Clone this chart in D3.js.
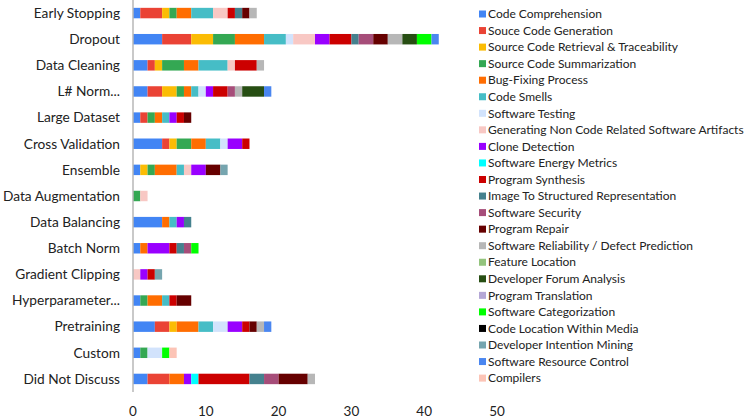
<!DOCTYPE html>
<html><head><meta charset="utf-8">
<script src="https://cdn.jsdelivr.net/npm/d3@7"></script>
<style>body{margin:0;background:#fff;}svg{display:block;font-family:Lato,"Noto Sans",sans-serif;}</style>
</head><body><svg id="c" width="747" height="420"></svg>
<script>
const categories = ["Early Stopping","Dropout","Data Cleaning","L# Norm...","Large Dataset","Cross Validation","Ensemble","Data Augmentation","Data Balancing","Batch Norm","Gradient Clipping","Hyperparameter...","Pretraining","Custom","Did Not Discuss"];
const seriesNames = ["Code Comprehension","Souce Code Generation","Source Code Retrieval & Traceability","Source Code Summarization","Bug-Fixing Process","Code Smells","Software Testing","Generating Non Code Related Software Artifacts","Clone Detection","Software Energy Metrics","Program Synthesis","Image To Structured Representation","Software Security","Program Repair","Software Reliability / Defect Prediction","Feature Location","Developer Forum Analysis","Program Translation","Software Categorization","Code Location Within Media","Developer Intention Mining","Software Resource Control","Compilers"];
const seriesColors = ["#4285f4","#ea4335","#fbbc04","#34a853","#ff6d01","#46bdc6","#d2e3fc","#f8c8c4","#9900ff","#00ffff","#cc0000","#45818e","#a64d79","#660000","#b7b7b7","#93c47d","#274e13","#b4a7d6","#00ff00","#000000","#76a5af","#4a86f0","#fcc4b6"];
// values[series][category]
const values = [
 [1,4,2,2,1,4,1,0,4,1,0,1,3,1,2],
 [3,4,1,2,1,1,0,0,0,0,0,0,2,0,3],
 [1,3,1,2,0,1,1,0,0,0,0,0,1,0,0],
 [1,3,3,1,1,2,1,1,0,0,0,1,0,1,0],
 [2,4,2,1,1,2,3,0,1,1,0,2,3,0,2],
 [3,3,4,1,1,2,1,0,1,0,0,1,2,0,0],
 [0,1,0,1,0,1,0,0,0,0,0,0,2,2,0],
 [2,3,1,0,0,0,1,1,0,0,1,0,0,0,0],
 [0,2,0,1,1,2,2,0,1,3,1,0,2,0,1],
 [0,0,0,0,0,0,0,0,0,0,0,0,0,0,1],
 [1,3,3,2,1,1,0,0,0,1,1,1,1,0,7],
 [1,1,0,0,0,0,0,0,1,1,0,0,0,0,2],
 [0,2,0,1,0,0,0,0,0,1,0,0,0,0,2],
 [1,2,0,0,1,0,2,0,0,0,0,2,1,0,4],
 [1,2,1,1,0,0,0,0,0,0,0,0,1,0,1],
 [0,0,0,0,0,0,0,0,0,0,0,0,0,0,0],
 [0,2,0,3,0,0,0,0,0,0,0,0,0,0,0],
 [0,0,0,0,0,0,0,0,0,0,0,0,0,0,0],
 [0,2,0,0,0,0,0,0,0,1,0,0,0,1,0],
 [0,0,0,0,0,0,0,0,0,0,0,0,0,0,0],
 [0,0,0,0,0,0,1,0,0,0,1,0,0,0,0],
 [0,1,0,1,0,0,0,0,0,0,0,0,1,0,0],
 [0,0,0,0,0,0,0,0,0,0,0,0,0,1,0]
];
const xTicks = [0,10,20,30,40,50];

const svg = d3.select("#c");
const x = d3.scaleLinear().domain([0,50]).range([133,497]);
const y = d3.scaleBand().domain(categories).range([0,392]).paddingInner(0.6).paddingOuter(0.3);

const rows = categories.map((c,ci)=>{const o={cat:c}; seriesNames.forEach((s,si)=>o[s]=values[si][ci]); return o;});
const stack = d3.stack().keys(seriesNames)(rows);
const color = d3.scaleOrdinal().domain(seriesNames).range(seriesColors);

svg.append("g").selectAll("g").data(stack).join("g")
  .attr("fill", d=>color(d.key))
  .selectAll("rect").data(d=>d.filter(p=>p[1]>p[0])).join("rect")
  .attr("x", p=>x(p[0])).attr("width", p=>x(p[1])-x(p[0]))
  .attr("y", p=>y(p.data.cat)).attr("height", y.bandwidth());

// y axis line
svg.append("line").attr("x1",133).attr("x2",133).attr("y1",0).attr("y2",392)
  .attr("stroke","#b7b7b7").attr("stroke-width",1.5);

// category labels
svg.append("g").selectAll("text").data(categories).join("text")
  .attr("x",120).attr("y",c=>y(c)+y.bandwidth()/2).attr("dy","0.35em")
  .attr("text-anchor","end").attr("font-size",13.7).attr("fill","#222").text(c=>c);

// x tick labels
svg.append("g").selectAll("text").data(xTicks).join("text")
  .attr("x",t=>x(t)).attr("y",416).attr("text-anchor","middle")
  .attr("font-size",13.5).attr("fill","#222").text(t=>t);

// legend
const lg = svg.append("g").selectAll("g").data(seriesNames).join("g")
  .attr("transform",(d,i)=>`translate(479,${14+i*16.55})`);
lg.append("rect").attr("x",0).attr("y",-3.5).attr("width",7).attr("height",7).attr("fill",d=>color(d));
lg.append("text").attr("x",9).attr("dy","0.35em").attr("font-size",12).attr("fill","#222").text(d=>d);
</script></body></html>
